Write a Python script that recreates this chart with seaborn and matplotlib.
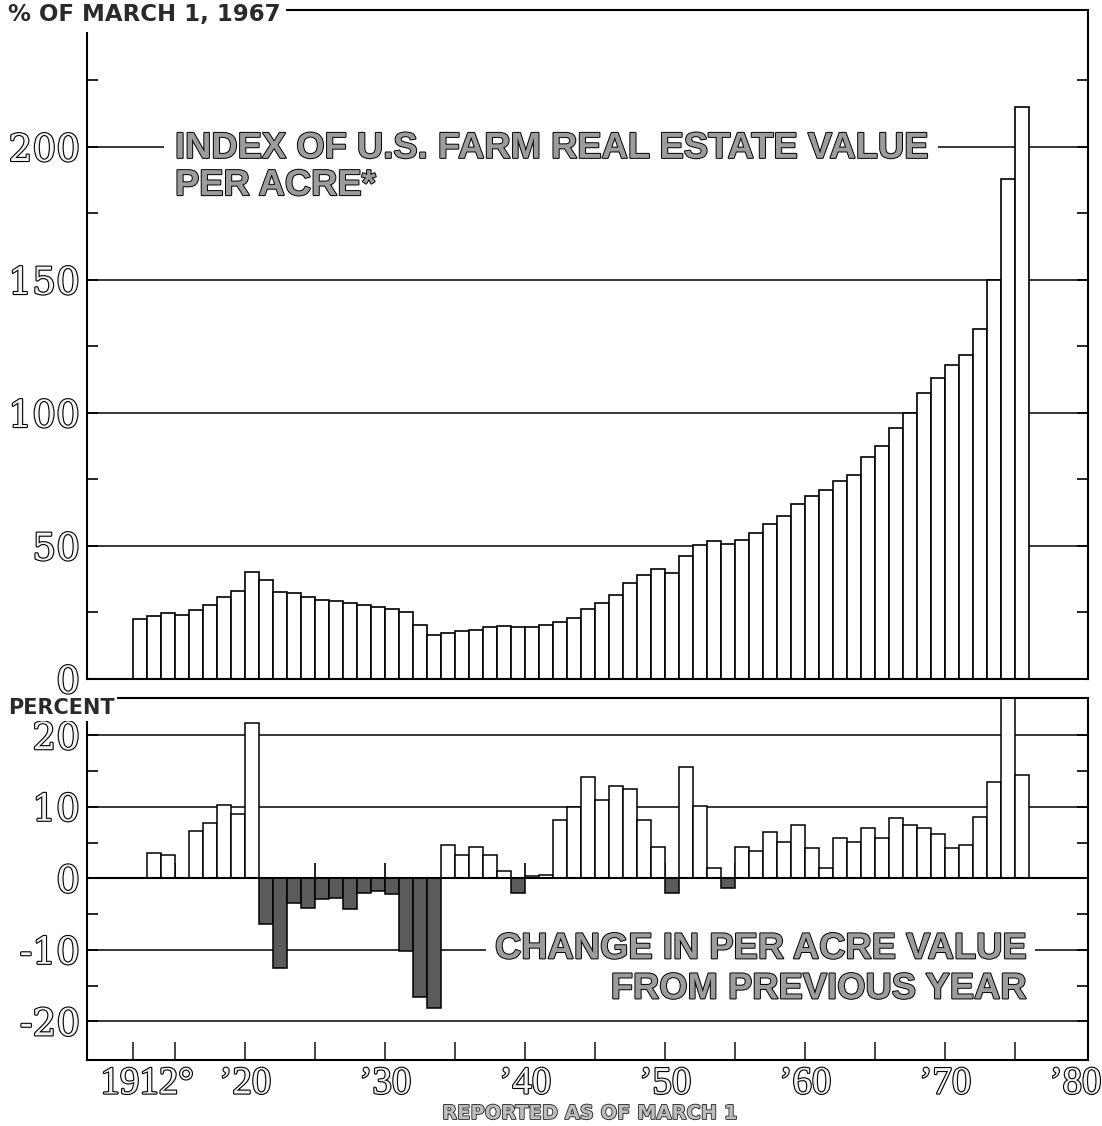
import matplotlib
matplotlib.use("Agg")
import matplotlib.pyplot as plt
import matplotlib.patheffects as pe
import numpy as np
import pandas as pd
import seaborn as sns

# ---------------- data ----------------
years = list(range(1912, 1976))
index_values = [22.5, 23.5, 24.7, 24.2, 25.9, 27.8, 30.7, 33.2, 40.3, 37.3,
                32.8, 32.2, 30.7, 29.8, 29.2, 28.4, 27.8, 26.9, 26.2, 25.3,
                20.2, 16.4, 17.4, 18.1, 18.6, 19.4, 20.0, 19.6, 19.6, 20.2,
                21.6, 22.9, 26.5, 28.4, 31.7, 36.2, 39.0, 41.2, 40.0, 46.3,
                50.5, 51.8, 50.7, 52.2, 54.9, 58.1, 61.3, 65.9, 68.8, 70.9,
                74.3, 76.8, 83.5, 87.5, 94.4, 100.0, 107.4, 113.1, 117.9, 121.7,
                131.4, 150.0, 188.0, 215.0]

change_years = list(range(1913, 1976))
change_values = [3.6, 3.3, 0.0, 6.6, 7.7, 10.2, 9.0, 21.7,
                 -6.4, -12.5, -3.4, -4.1, -2.9, -2.7, -4.3, -2.0, -1.8, -2.2,
                 -10.2, -16.6, -18.1, 4.6, 3.3, 4.4, 3.3, 1.0, -2.0, 0.3,
                 0.5, 8.2, 9.9, 14.1, 11.0, 12.9, 12.5, 8.1, 4.4, -2.1,
                 15.6, 10.1, 1.5, -1.3, 4.4, 3.8, 6.4, 5.1, 7.4, 4.2,
                 1.4, 5.7, 5.1, 7.0, 5.6, 8.4, 7.4, 7.0, 6.2, 4.2,
                 4.6, 8.6, 13.4, 26.0, 14.4]

top_yticks = [0, 50, 100, 150, 200]
top_ylabels = ["0", "50", "100", "150", "200"]
top_minor = [25, 75, 125, 175, 225]
bot_yticks = [-20, -10, 0, 10, 20]
bot_ylabels = ["-20", "-10", "0", "10", "20"]
bot_minor = [-15, -5, 5, 15]
mark_years = [1912, 1915, 1920, 1925, 1930, 1935, 1940, 1945, 1950,
              1955, 1960, 1965, 1970, 1975]
label_years = [1912, 1920, 1930, 1940, 1950, 1960, 1970, 1980]
label_texts = ["1912°", "’20", "’30", "’40", "’50", "’60", "’70", "’80"]

df_top = pd.DataFrame({"year": years, "index": index_values})
df_bot = pd.DataFrame({"year": change_years, "change": change_values})
df_bot["sign"] = np.where(df_bot["change"] < 0, "down", "up")

# ---------------- style ----------------
sns.set_theme(style="white")
plt.rcParams["font.family"] = ["DejaVu Sans"]

W, H = 1102, 1126
fig = plt.figure(figsize=(W / 100, H / 100), dpi=100)
fig.patch.set_facecolor("white")

L, R = 87, 1088
ax1 = fig.add_axes([L / W, 1 - 679 / H, (R - L) / W, (679 - 10) / H])
ax2 = fig.add_axes([L / W, 1 - 1060 / H, (R - L) / W, (1060 - 698) / H])

x_left = 1911.5 + (L - 133.3) / 14.0
x_right = 1911.5 + (R - 133.3) / 14.0

# ---------------- top panel ----------------
sns.barplot(data=df_top, x="year", y="index", native_scale=True, width=1.0,
            color="white", edgecolor="black", linewidth=1.2, errorbar=None,
            saturation=1, ax=ax1)
for v in top_yticks[1:]:
    ax1.axhline(v, color="black", lw=1.1, zorder=0.5)
ax1.set_xlim(x_left, x_right)
ax1.set_ylim(0, 251.5)
ax1.set_xlabel("")
ax1.set_ylabel("")
ax1.set_yticks(top_yticks)
ax1.set_yticklabels(top_ylabels)
ax1.set_yticks(top_minor, minor=True)
ax1.tick_params(axis="y", which="both", direction="in", left=True, right=True,
                length=8, width=1.2, pad=5, labelsize=27, colors="black")
ax1.tick_params(axis="x", which="both", bottom=False, labelbottom=False)

# ---------------- bottom panel ----------------
sns.barplot(data=df_bot, x="year", y="change", hue="sign", native_scale=True,
            width=1.0, dodge=False, palette={"up": "white", "down": "#5b5b5b"},
            edgecolor="black", linewidth=1.1, errorbar=None, saturation=1,
            legend=False, ax=ax2)
for v in [20, 10, -10, -20]:
    ax2.axhline(v, color="black", lw=1.1, zorder=0.5)
ax2.axhline(0, color="black", lw=1.5, zorder=3)
ax2.vlines([y - 0.5 for y in mark_years[1:]], 0, 2.2, color="black", lw=1.2,
           zorder=0.5)
ax2.set_xlim(x_left, x_right)
ax2.set_ylim(-25.4, 25.2)
ax2.set_xlabel("")
ax2.set_ylabel("")
ax2.set_yticks(bot_yticks)
ax2.set_yticklabels(bot_ylabels)
ax2.set_yticks(bot_minor, minor=True)
ax2.tick_params(axis="y", which="both", direction="in", left=True, right=True,
                length=8, width=1.2, pad=5, labelsize=27, colors="black")

major_pos = [y - 0.5 for y in label_years]
major_pos[0] = 1912.5
major_pos[-1] = 1978.8
ax2.xaxis.remove_overlapping_locs = False
ax2.set_xticks(major_pos)
ax2.set_xticklabels(label_texts)
ax2.set_xticks([y - 0.5 for y in mark_years], minor=True)
ax2.tick_params(axis="x", which="major", length=0, pad=4, labelsize=28)
ax2.tick_params(axis="x", which="minor", direction="in", length=13, width=1.2,
                bottom=True)

outline = [pe.withStroke(linewidth=1.6, foreground="black")]
for ax in (ax1, ax2):
    for sp in ax.spines.values():
        sp.set_color("black")
        sp.set_linewidth(1.5)
    for lab in ax.get_yticklabels():
        lab.set_fontfamily("DejaVu Serif")
        lab.set_color("#f2f2f2")
        lab.set_path_effects(outline)
for lab in ax2.get_xticklabels():
    lab.set_fontfamily("Liberation Serif")
    lab.set_color("#f2f2f2")
    lab.set_path_effects(outline)

# ---------------- texts ----------------
title_fx = [pe.withStroke(linewidth=1.4, foreground="black")]
tkw = dict(fontfamily="Liberation Sans", fontweight="bold", fontsize=26.2,
           color="#9c9c9c", path_effects=title_fx)
x_t = 1911.5 + (175 - 133.3) / 14.0
ax1.text(x_t, 195.9, "INDEX OF U.S. FARM REAL ESTATE VALUE", ha="left",
         va="baseline", zorder=4,
         bbox=dict(boxstyle="square,pad=0.3", fc="white", ec="none"), **tkw)
ax1.text(x_t, 181.9, "PER ACRE*", ha="left", va="baseline", zorder=5, **tkw)

x_r = 1911.5 + (1026 - 133.3) / 14.0
ax2.text(x_r, -11.2, "CHANGE IN PER ACRE VALUE", ha="right", va="baseline",
         zorder=4, bbox=dict(boxstyle="square,pad=0.25", fc="white", ec="none"),
         **tkw)
ax2.text(x_r, -16.8, "FROM PREVIOUS YEAR", ha="right", va="baseline",
         zorder=5, **tkw)

fig.text(8 / W, 1 - 21 / H, "% OF MARCH 1, 1967", ha="left", va="baseline",
         fontsize=16.5, fontweight="bold", color="#2a2a2a", zorder=10,
         bbox=dict(boxstyle="square,pad=0.25", fc="white", ec="none"))
fig.text(8 / W, 1 - 714 / H, "PERCENT", ha="left", va="baseline",
         fontsize=15, fontweight="bold", color="#2a2a2a", zorder=10,
         bbox=dict(boxstyle="square,pad=0.12", fc="white", ec="none"))
fig.text(590 / W, 1 - 1119 / H, "REPORTED AS OF MARCH 1", ha="center",
         va="baseline", fontsize=14, fontweight="bold", color="#bdbdbd",
         path_effects=[pe.withStroke(linewidth=1.2, foreground="#222222")])

fig.savefig("out.png", dpi=100, facecolor="white")
